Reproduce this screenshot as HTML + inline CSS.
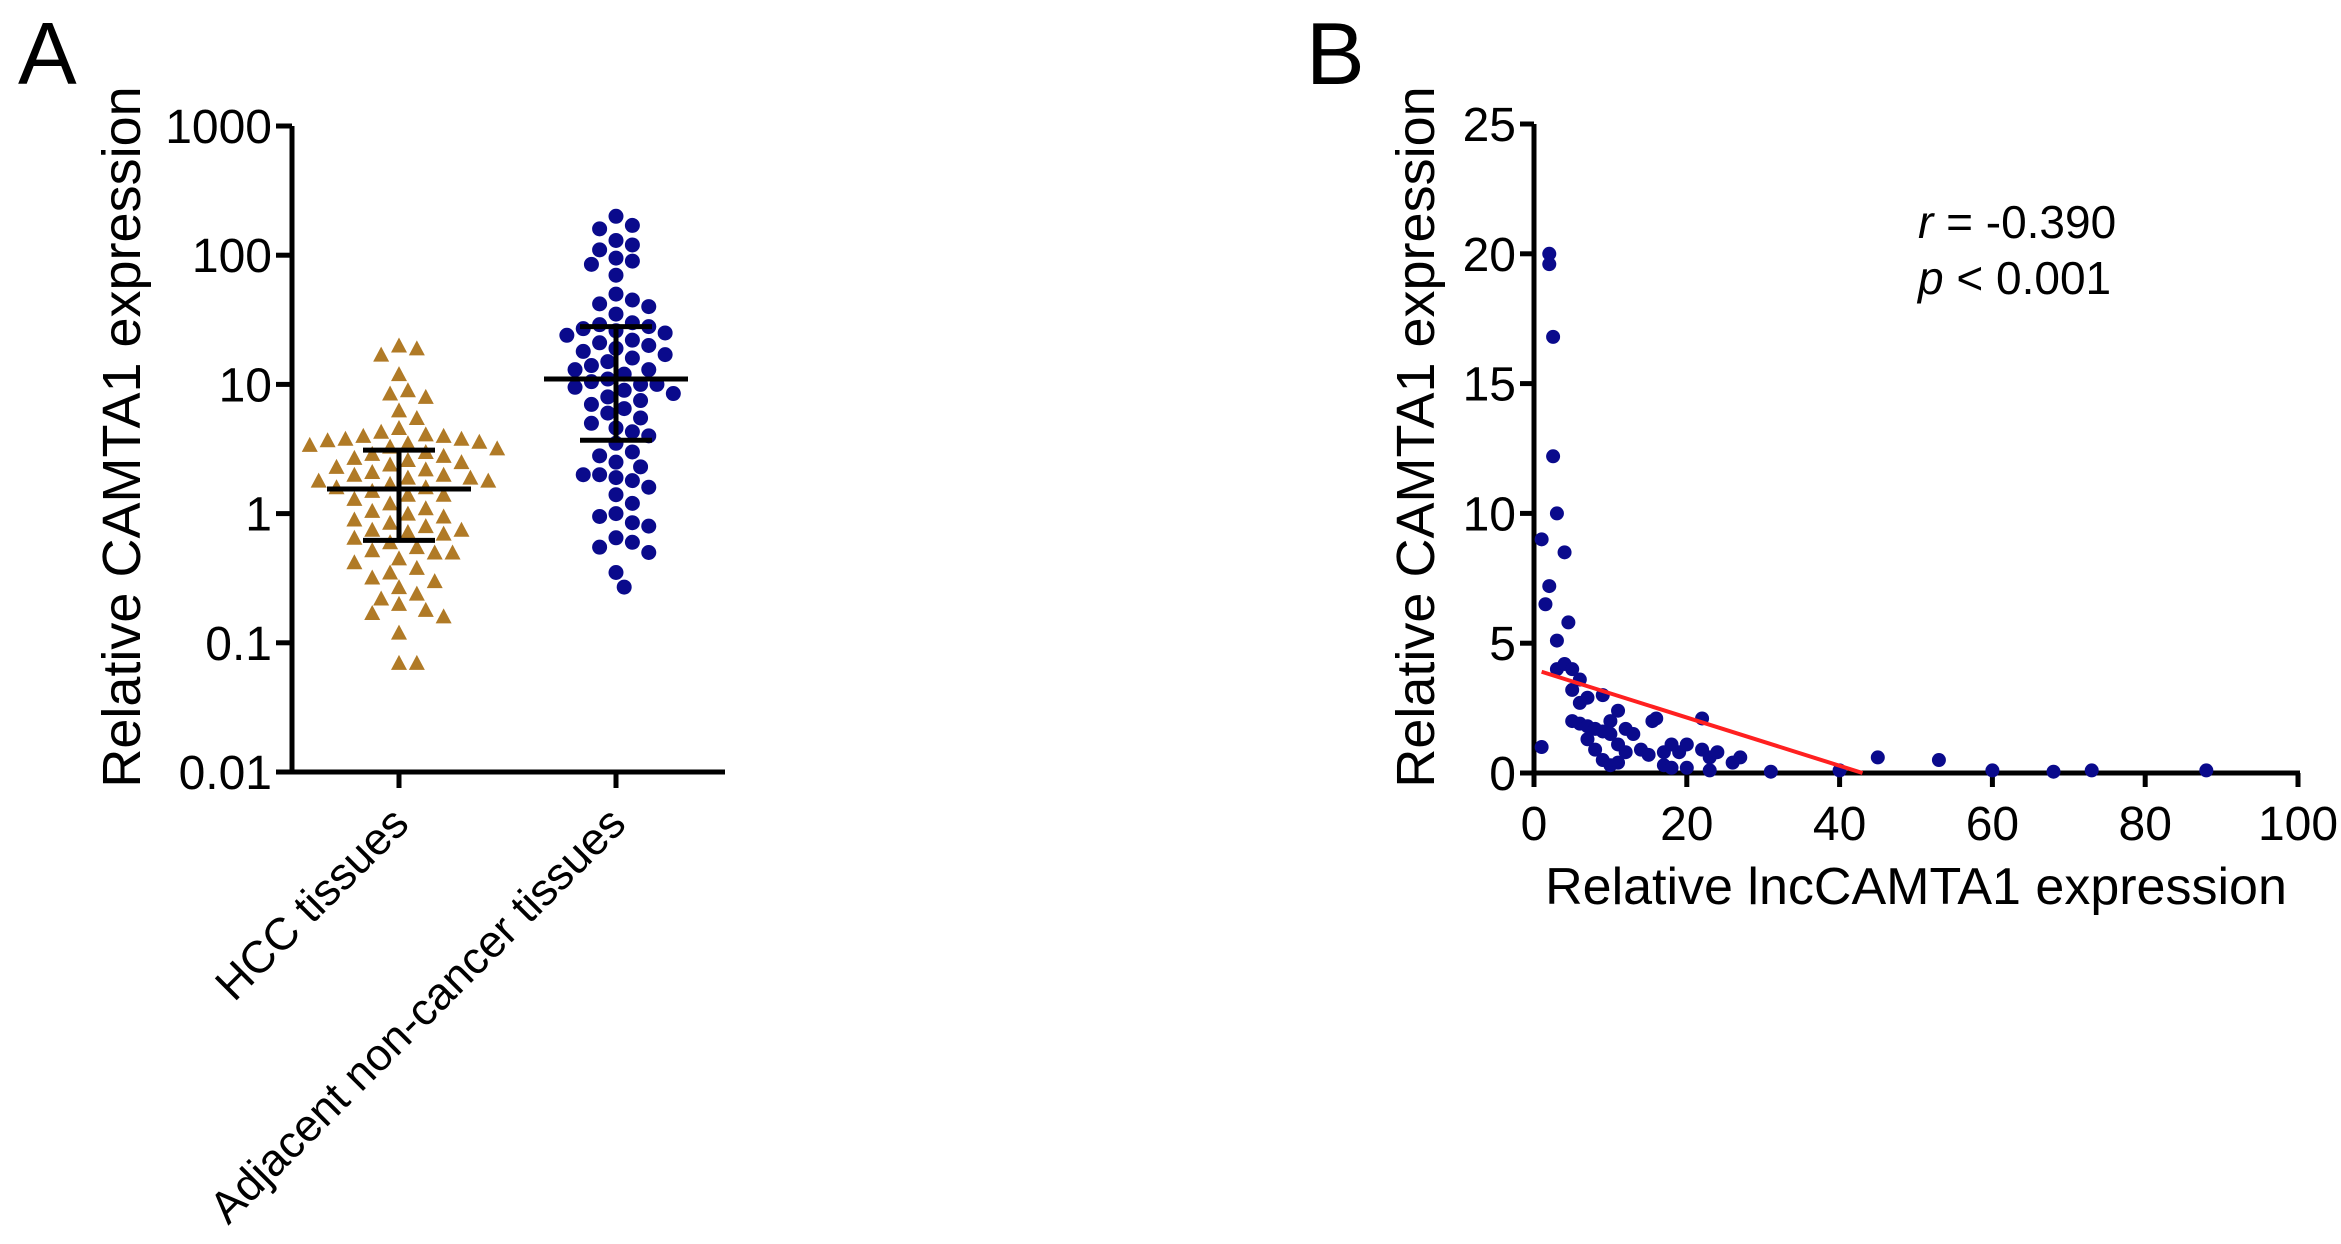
<!DOCTYPE html>
<html><head><meta charset="utf-8"><style>
html,body{margin:0;padding:0;background:#fff;}
svg{display:block;font-family:"Liberation Sans",Arial,sans-serif;}
</style></head><body>
<svg id="fig" width="2341" height="1244" viewBox="0 0 2341 1244" xmlns="http://www.w3.org/2000/svg">
<text x="18" y="84" font-size="88">A</text>
<text x="1306" y="84" font-size="88">B</text>
<g id="pa"></g>
<g id="pb"></g>
</svg>
<script>
const NS="http://www.w3.org/2000/svg";
// ---- Panel A data ----
const aCategories=["HCC tissues","Adjacent non-cancer tissues"];
const aTickValues=[0.01,0.1,1,10,100,1000];
const aTickLabels=["0.01","0.1","1","10","100","1000"];
const hccValues=[20,19,17,12,9,8.5,8,6.3,5.5,4.6,4.3,4.1,4.0,4.0,3.8,3.8,3.7,3.6,3.5,3.4,3.3,3.2,3.0,2.9,2.8,2.7,2.6,2.5,2.4,2.3,2.2,2.1,2.0,2.0,1.9,1.9,1.8,1.8,1.7,1.6,1.6,1.5,1.4,1.4,1.3,1.2,1.1,1.05,1.0,0.95,0.9,0.85,0.8,0.75,0.75,0.72,0.7,0.65,0.6,0.55,0.52,0.5,0.5,0.45,0.42,0.38,0.35,0.32,0.3,0.27,0.24,0.22,0.2,0.18,0.17,0.16,0.12,0.07,0.07];
const adjValues=[200,170,160,130,120,110,95,90,85,70,50,45,42,40,35,30,29,28,27,26,25,24,22,21,20,19,18,17,16,15,14,13,13,12,11,10.5,10,10,9.5,9,8.5,8,7.5,7,6.5,6,5.5,5,4.6,4.3,4,3.5,3,2.8,2.5,2.3,2.0,2.0,1.9,1.8,1.6,1.4,1.2,1.0,0.95,0.85,0.8,0.65,0.6,0.55,0.5,0.35,0.27];
const aStats=[[0.62,1.55,3.1],[3.7,11,28]];
// ---- Panel B data ----
const bX=[1,1,2,2,2.5,2.5,3,2,1.5,4,4.5,3,3,4,5,6,5,7,9,6,5,6,7,8,7,9,10,11,10,12,13,11,8,9,10,12,11,14,15,15.5,16,17,18,17,19,20,18,20,22,22,23,24,23,26,27,31,40,45,53,60,68,73,88];
const bY=[1,9,20,19.6,16.8,12.2,10,7.2,6.5,8.5,5.8,5.1,4,4.2,4,3.6,3.2,2.9,3,2.7,2,1.9,1.8,1.7,1.3,1.6,2,2.4,1.5,1.7,1.5,1.1,0.9,0.5,0.3,0.8,0.4,0.9,0.7,2,2.1,0.8,1.1,0.3,0.8,1.1,0.2,0.2,2.1,0.9,0.6,0.8,0.1,0.4,0.6,0.05,0.1,0.6,0.5,0.1,0.05,0.1,0.1];
const bXTicks=[0,20,40,60,80,100];
const bYTicks=[0,5,10,15,20,25];
const bFit=[[1,3.9],[43,0]];

function el(tag,attrs,parent,text){const e=document.createElementNS(NS,tag);for(const k in attrs)e.setAttribute(k,attrs[k]);if(text!==undefined)e.textContent=text;parent.appendChild(e);return e;}

// Panel A
const pa=document.getElementById('pa');
const aX0=292,aX1=725,aYb=772,aYt=126;
const ay=v=>aYb-(Math.log10(v)+2)/5*(aYb-aYt);
const catX=[399,616];
let l=el('line',{x1:aX0,y1:aYt,x2:aX0,y2:aYb+2,stroke:'#000','stroke-width':5},pa);

l=el('line',{x1:aX0-2,y1:aYb,x2:aX1,y2:aYb,stroke:'#000','stroke-width':5},pa);

aTickValues.forEach((v,i)=>{
  const t=el('line',{x1:aX0-16,y1:ay(v),x2:aX0,y2:ay(v),stroke:'#000','stroke-width':5},pa);
  
  const tx=el('text',{x:aX0-20,y:ay(v)+17,'font-size':48,'text-anchor':'end'},pa,aTickLabels[i]);
  
});
catX.forEach((cx,i)=>{
  const t=el('line',{x1:cx,y1:aYb,x2:cx,y2:aYb+16,stroke:'#000','stroke-width':5},pa);
  
  const tx=el('text',{x:cx+12,y:826,'font-size':45,'text-anchor':'end',transform:`rotate(-45 ${cx+12} 826)`},pa,aCategories[i]);
  
});
let tt=el('text',{x:0,y:0,'font-size':54,'text-anchor':'middle',transform:'translate(140 437) rotate(-90)'},pa,'Relative CAMTA1 expression');

function swarm(vals,cx,r){const placed=[];const out=[];vals.forEach(v=>{const y=ay(v);let best=0;for(let k=0;k<40;k++){const off=(k%2?1:-1)*Math.ceil(k/2)*r*1.05;const ok=placed.every(p=>Math.hypot(p[0]-(cx+off),p[1]-y)>=2*r*0.98);if(ok){best=off;break;}}placed.push([cx+best,y]);out.push([cx+best,y]);});return out;}
swarm(hccValues,catX[0],8.5).forEach(p=>{
  const m=el('polygon',{points:`${p[0]},${p[1]-8} ${p[0]-8},${p[1]+7} ${p[0]+8},${p[1]+7}`,fill:'#b07a26'},pa);
  
});
swarm(adjValues,catX[1],7.8).forEach(p=>{
  const m=el('circle',{cx:p[0],cy:p[1],r:7.5,fill:'#0a0a8c'},pa);
  
});
aStats.forEach((s,i)=>{
  const cx=catX[i];
  const g=el('g',{stroke:'#000','stroke-width':5},pa);
  
  el('line',{x1:cx-72,y1:ay(s[1]),x2:cx+72,y2:ay(s[1])},g);
  el('line',{x1:cx-36,y1:ay(s[0]),x2:cx+36,y2:ay(s[0])},g);
  el('line',{x1:cx-36,y1:ay(s[2]),x2:cx+36,y2:ay(s[2])},g);
  el('line',{x1:cx,y1:ay(s[0]),x2:cx,y2:ay(s[2])},g);
});

// Panel B
const pb=document.getElementById('pb');
const bX0=1534,bX1=2298,bYb=773,bYt=124;
const bx=v=>bX0+v/100*(bX1-bX0);
const by=v=>bYb-v/25*(bYb-bYt);
l=el('line',{x1:bX0,y1:bYt,x2:bX0,y2:bYb+2,stroke:'#000','stroke-width':5},pb);

l=el('line',{x1:bX0-2,y1:bYb,x2:bX1+2,y2:bYb,stroke:'#000','stroke-width':5},pb);

bYTicks.forEach(v=>{
  const t=el('line',{x1:bX0-14,y1:by(v),x2:bX0,y2:by(v),stroke:'#000','stroke-width':5},pb);
  
  const tx=el('text',{x:bX0-18,y:by(v)+17,'font-size':48,'text-anchor':'end'},pb,String(v));
  
});
bXTicks.forEach(v=>{
  const t=el('line',{x1:bx(v),y1:bYb,x2:bx(v),y2:bYb+14,stroke:'#000','stroke-width':5},pb);
  
  const tx=el('text',{x:bx(v),y:840,'font-size':48,'text-anchor':'middle'},pb,String(v));
  
});
tt=el('text',{x:0,y:0,'font-size':54,'text-anchor':'middle',transform:'translate(1434 437) rotate(-90)'},pb,'Relative CAMTA1 expression');

tt=el('text',{x:1916,y:904,'font-size':52,'text-anchor':'middle'},pb,'Relative lncCAMTA1 expression');

bX.forEach((x,i)=>{
  const m=el('circle',{cx:bx(x),cy:by(bY[i]),r:7,fill:'#0a0a8c'},pb);
  
});
const fl=el('line',{x1:bx(bFit[0][0]),y1:by(bFit[0][1]),x2:bx(bFit[1][0]),y2:by(bFit[1][1]),stroke:'#ff2020','stroke-width':4},pb);

let st=el('text',{x:1918,y:238,'font-size':46},pb);

el('tspan',{'font-style':'italic'},st,'r');el('tspan',{},st,' = -0.390');
st=el('text',{x:1918,y:294,'font-size':46},pb);

el('tspan',{'font-style':'italic'},st,'p');el('tspan',{},st,' < 0.001');
</script>
</body></html>
